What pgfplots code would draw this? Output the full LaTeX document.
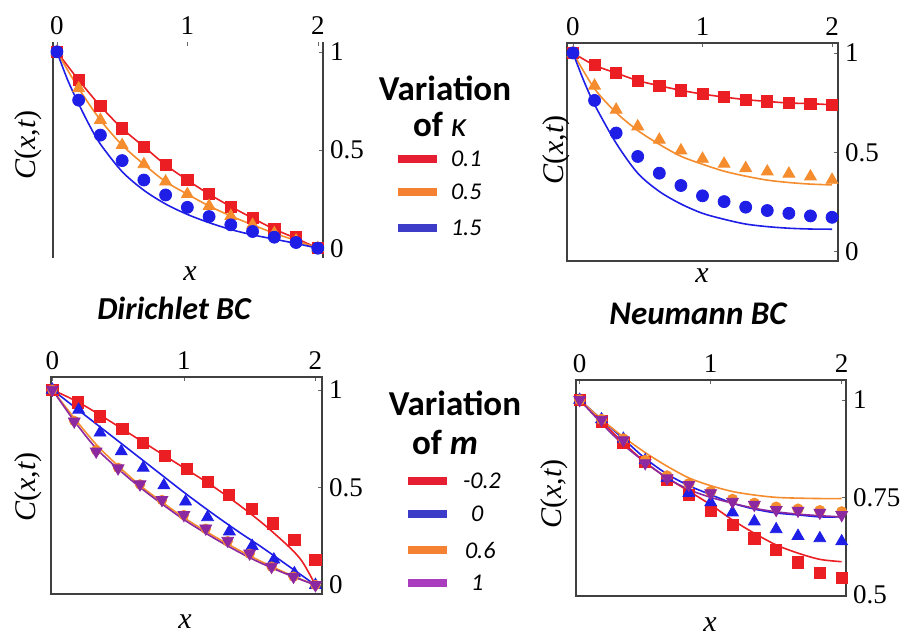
\documentclass[border=0pt]{standalone}
\usepackage{fontspec}
\newfontfamily\tnr{Liberation Serif}
\newfontfamily\calfont{Carlito}
\usepackage{pgfplots}
\pgfplotsset{compat=1.18}

\definecolor{cred}{RGB}{235,30,35}
\definecolor{corange}{RGB}{245,140,45}
\definecolor{cblue}{RGB}{30,30,230}
\definecolor{cpurple}{RGB}{140,40,160}
\definecolor{lred}{RGB}{230,30,50}
\definecolor{lorange}{RGB}{245,130,50}
\definecolor{lblue}{RGB}{60,60,200}
\definecolor{lpurple}{RGB}{170,60,190}

\pgfplotsset{
  panel/.style={
    scale only axis,
    tick label style={font=\tnr\fontsize{13.5}{13.5}\selectfont},
    /pgf/number format/assume math mode=true,
    xtick={0,1,2}, xticklabels={0,1,2},
    xtick pos=upper, xticklabel pos=upper,
    ytick pos=right, yticklabel pos=right,
    tick align=inside, major tick length=2pt,
    axis line style={black!75, line width=0.6pt},
    tick style={black!60},
    clip=false,
  },
  ln/.style={no marks, smooth, line width=0.8pt},
  mk/.style={only marks, mark size=3pt},
}

\begin{document}
\begin{tikzpicture}
\path[use as bounding box] (0,0) rectangle (452pt,-319.5pt);

% ---------------- Panel 1: Dirichlet, kappa ----------------
\begin{axis}[panel, at={(26.5pt,-129pt)}, anchor=south west,
  width=135pt, height=108pt,
  xmin=-0.03, xmax=2.04, ymin=-0.05, ymax=1.05,
  ytick={0,0.5,1}, yticklabels={0,0.5,1},
  separate axis lines,
  x axis line style={draw=none}]
\addplot[ln, cred] coordinates {(0,1)(0.1667,0.856)(0.3333,0.724)(0.5,0.610)(0.6667,0.517)(0.8333,0.424)(1,0.347)(1.1667,0.275)(1.3333,0.212)(1.5,0.153)(1.6667,0.097)(1.8333,0.050)(2,0)};
\addplot[mk, cred, mark=square*, mark size=2.8pt] coordinates {(0,1)(0.1667,0.856)(0.3333,0.724)(0.5,0.610)(0.6667,0.517)(0.8333,0.424)(1,0.347)(1.1667,0.275)(1.3333,0.212)(1.5,0.153)(1.6667,0.097)(1.8333,0.056)(2,0)};
\addplot[ln, corange] coordinates {(0,1)(0.1667,0.814)(0.3333,0.653)(0.5,0.525)(0.6667,0.427)(0.8333,0.339)(1,0.275)(1.1667,0.215)(1.3333,0.164)(1.5,0.119)(1.6667,0.076)(1.8333,0.039)(2,0)};
\addplot[mk, corange, mark=triangle*, mark size=3.4pt] coordinates {(0,1)(0.1667,0.814)(0.3333,0.653)(0.5,0.525)(0.6667,0.427)(0.8333,0.339)(1,0.275)(1.1667,0.215)(1.3333,0.164)(1.5,0.119)(1.6667,0.076)(1.8333,0.039)(2,0)};
\addplot[ln, cblue] coordinates {(0,1)(0.0833,0.855)(0.1667,0.735)(0.25,0.625)(0.3333,0.53)(0.5,0.39)(0.6667,0.295)(0.8333,0.225)(1,0.172)(1.1667,0.13)(1.3333,0.095)(1.5,0.068)(1.6667,0.046)(1.8333,0.024)(2,0)};
\addplot[mk, cblue, mark=*] coordinates {(0,1)(0.1667,0.754)(0.3333,0.576)(0.5,0.446)(0.6667,0.347)(0.8333,0.271)(1,0.208)(1.1667,0.161)(1.3333,0.119)(1.5,0.085)(1.6667,0.056)(1.8333,0.029)(2,0)};
\end{axis}

% ---------------- Panel 2: Neumann, kappa ----------------
\begin{axis}[panel, at={(283.5pt,-130.5pt)}, anchor=south west,
  width=135.5pt, height=109pt,
  xmin=-0.046, xmax=2.046, ymin=-0.047, ymax=1.05,
  ytick={0,0.5,1}, yticklabels={0,0.5,1}]
\addplot[ln, cred] coordinates {(0,1)(0.1667,0.938)(0.3333,0.899)(0.5,0.861)(0.6667,0.835)(0.8333,0.812)(1,0.793)(1.1667,0.778)(1.3333,0.765)(1.5,0.756)(1.6667,0.748)(1.8333,0.745)(2,0.739)};
\addplot[mk, cred, mark=square*, mark size=2.8pt] coordinates {(0,1)(0.1667,0.938)(0.3333,0.899)(0.5,0.861)(0.6667,0.835)(0.8333,0.812)(1,0.793)(1.1667,0.778)(1.3333,0.765)(1.5,0.756)(1.6667,0.748)(1.8333,0.745)(2,0.739)};
\addplot[ln, corange] coordinates {(0,1)(0.1667,0.82)(0.3333,0.70)(0.5,0.61)(0.6667,0.54)(0.8333,0.48)(1,0.44)(1.1667,0.405)(1.3333,0.38)(1.5,0.36)(1.6667,0.348)(1.8333,0.34)(2,0.336)};
\addplot[mk, corange, mark=triangle*, mark size=3.4pt] coordinates {(0,1)(0.1667,0.835)(0.3333,0.714)(0.5,0.630)(0.6667,0.563)(0.8333,0.509)(1,0.467)(1.1667,0.442)(1.3333,0.420)(1.5,0.403)(1.6667,0.392)(1.8333,0.378)(2,0.361)};
\addplot[ln, cblue] coordinates {(0,1)(0.0833,0.86)(0.1667,0.74)(0.3333,0.546)(0.5,0.395)(0.6667,0.303)(0.8333,0.24)(1,0.193)(1.1667,0.163)(1.3333,0.139)(1.5,0.126)(1.6667,0.118)(1.8333,0.114)(2,0.113)};
\addplot[mk, cblue, mark=*] coordinates {(0,1)(0.1667,0.761)(0.3333,0.597)(0.5,0.479)(0.6667,0.395)(0.8333,0.333)(1,0.281)(1.1667,0.252)(1.3333,0.224)(1.5,0.207)(1.6667,0.193)(1.8333,0.180)(2,0.173)};
\end{axis}

% ---------------- Panel 3: Dirichlet, m ----------------
\begin{axis}[panel, at={(25.5pt,-297pt)}, anchor=south west,
  width=135.5pt, height=108.5pt,
  xmin=-0.01, xmax=2.05, ymin=-0.046, ymax=1.065,
  ytick={0,0.5,1}, yticklabels={0,0.5,1}]
\addplot[ln, cred] coordinates {(0,1)(0.2,0.935)(0.4,0.855)(0.6,0.77)(0.8,0.685)(1,0.60)(1.2,0.515)(1.4,0.42)(1.6,0.315)(1.8,0.195)(1.9,0.12)(2,0)};
\addplot[mk, cred, mark=square*, mark size=2.8pt] coordinates {(0,1)(0.197,0.935)(0.362,0.863)(0.532,0.798)(0.691,0.726)(0.853,0.662)(1.02,0.593)(1.185,0.526)(1.344,0.462)(1.519,0.388)(1.678,0.316)(1.84,0.23)(2.0,0.13)};
\addplot[ln, cblue] coordinates {(0,1)(0.2,0.895)(0.4,0.79)(0.6,0.685)(0.8,0.58)(1,0.475)(1.2,0.375)(1.4,0.28)(1.6,0.19)(1.8,0.095)(2,0)};
\addplot[mk, cblue, mark=triangle*, mark size=3.4pt] coordinates {(0,1)(0.2,0.897)(0.363,0.78)(0.524,0.684)(0.691,0.60)(0.848,0.51)(1.013,0.427)(1.18,0.347)(1.346,0.274)(1.519,0.2)(1.684,0.13)(1.84,0.06)(2,0)};
\addplot[ln, corange] coordinates {(0,1)(0.1667,0.855)(0.3333,0.72)(0.5,0.61)(0.6667,0.51)(0.8333,0.425)(1,0.345)(1.1667,0.275)(1.3333,0.21)(1.5,0.15)(1.6667,0.095)(1.8333,0.045)(2,0)};
\addplot[mk, corange, mark=*, mark size=2.4pt] coordinates {(0,1)(0.1667,0.84)(0.3333,0.69)(0.5,0.60)(0.6667,0.515)(0.8333,0.435)(1,0.358)(1.1667,0.288)(1.3333,0.224)(1.5,0.16)(1.6667,0.094)(1.8333,0.043)(2,0)};
\addplot[ln, cpurple] coordinates {(0,1)(0.1667,0.84)(0.3333,0.70)(0.5,0.595)(0.6667,0.50)(0.8333,0.415)(1,0.335)(1.1667,0.265)(1.3333,0.20)(1.5,0.14)(1.6667,0.088)(1.8333,0.042)(2,0)};
\addplot[mk, cpurple, mark=triangle*, mark options={rotate=180}, mark size=3.4pt] coordinates {(0,1)(0.1667,0.838)(0.3333,0.684)(0.5,0.598)(0.6667,0.516)(0.8333,0.436)(1,0.359)(1.1667,0.29)(1.3333,0.227)(1.5,0.162)(1.6667,0.094)(1.8333,0.043)(2,0)};
\end{axis}

% ---------------- Panel 4: Neumann, m ----------------
\begin{axis}[panel, at={(288pt,-298pt)}, anchor=south west,
  width=135pt, height=108pt,
  xmin=-0.028, xmax=2.033, ymin=0.497, ymax=1.051,
  ytick={0.5,0.75,1}, yticklabels={0.5,0.75,1}]
\addplot[ln, cred] coordinates {(0,1)(0.1667,0.945)(0.3333,0.89)(0.5,0.84)(0.6667,0.80)(0.8333,0.766)(1,0.731)(1.1667,0.692)(1.3333,0.658)(1.5,0.628)(1.6667,0.607)(1.8333,0.591)(2,0.585)};
\addplot[mk, cred, mark=square*, mark size=2.8pt] coordinates {(0,1)(0.1667,0.945)(0.3333,0.89)(0.5,0.84)(0.6667,0.795)(0.8333,0.756)(1,0.715)(1.1667,0.679)(1.3333,0.645)(1.5,0.615)(1.6667,0.583)(1.8333,0.556)(2,0.544)};
\addplot[ln, cblue] coordinates {(0,1)(0.1667,0.95)(0.3333,0.90)(0.5,0.85)(0.6667,0.81)(0.8333,0.78)(1,0.757)(1.1667,0.735)(1.3333,0.72)(1.5,0.71)(1.6667,0.705)(1.8333,0.70)(2,0.70)};
\addplot[mk, cblue, mark=triangle*, mark size=3.4pt] coordinates {(0,1)(0.1667,0.95)(0.3333,0.90)(0.5,0.845)(0.6667,0.80)(0.8333,0.761)(1,0.737)(1.1667,0.711)(1.3333,0.688)(1.5,0.668)(1.6667,0.651)(1.8333,0.645)(2,0.637)};
\addplot[ln, corange] coordinates {(0,1)(0.1667,0.95)(0.3333,0.905)(0.5,0.865)(0.6667,0.83)(0.8333,0.80)(1,0.78)(1.1667,0.765)(1.3333,0.756)(1.5,0.75)(1.6667,0.748)(1.8333,0.747)(2,0.747)};
\addplot[mk, corange, mark=*, mark size=2.6pt] coordinates {(0,1)(0.1667,0.95)(0.3333,0.90)(0.5,0.845)(0.6667,0.805)(0.8333,0.785)(1,0.765)(1.1667,0.745)(1.3333,0.735)(1.5,0.725)(1.6667,0.72)(1.8333,0.716)(2,0.713)};
\addplot[ln, cpurple] coordinates {(0,1)(0.1667,0.94)(0.3333,0.885)(0.5,0.84)(0.6667,0.80)(0.8333,0.77)(1,0.75)(1.1667,0.735)(1.3333,0.722)(1.5,0.713)(1.6667,0.707)(1.8333,0.703)(2,0.70)};
\addplot[mk, cpurple, mark=triangle*, mark options={rotate=180}, mark size=3.4pt] coordinates {(0,1)(0.1667,0.949)(0.3333,0.897)(0.5,0.838)(0.6667,0.799)(0.8333,0.782)(1,0.761)(1.1667,0.739)(1.3333,0.731)(1.5,0.718)(1.6667,0.716)(1.8333,0.711)(2,0.705)};
\end{axis}

% ---------------- axis labels ----------------
\def\lblfont{\tnr\fontsize{15}{15}\selectfont}
\def\Cxt{\lblfont\itshape C\upshape(\itshape x\upshape,\itshape t\upshape)}
\node[rotate=90] at (14pt,-72.5pt) {\Cxt};
\node[rotate=90] at (278pt,-75pt) {\Cxt};
\node[rotate=90] at (14pt,-243.5pt) {\Cxt};
\node[rotate=90] at (277pt,-247pt) {\Cxt};
\node at (95pt,-137pt) {\lblfont\itshape x};
\node at (351pt,-138pt) {\lblfont\itshape x};
\node at (92.5pt,-311pt) {\lblfont\itshape x};
\node at (355pt,-312.5pt) {\lblfont\itshape x};

% ---------------- titles ----------------
\node at (87pt,-154pt) {\calfont\fontsize{16}{16}\selectfont\bfseries\itshape Dirichlet BC};
\node at (349pt,-157pt) {\calfont\fontsize{16.5}{16.5}\selectfont\bfseries\itshape Neumann BC};

% ---------------- legend kappa ----------------
\node at (222.5pt,-44pt) {\calfont\fontsize{17.5}{17.5}\selectfont\bfseries Variation};
\node at (220pt,-62pt) {\calfont\fontsize{17.5}{17.5}\selectfont\bfseries of \mdseries\itshape κ};
\draw[lred, line width=4pt] (199pt,-79.5pt) -- (218.5pt,-79.5pt);
\draw[lorange, line width=4pt] (199pt,-96pt) -- (218.5pt,-96pt);
\draw[lblue, line width=4pt] (199pt,-114pt) -- (218.5pt,-114pt);
\node[anchor=west] at (222pt,-79.5pt) {\calfont\fontsize{12}{12}\selectfont\itshape 0.1};
\node[anchor=west] at (222pt,-96pt) {\calfont\fontsize{12}{12}\selectfont\itshape 0.5};
\node[anchor=west] at (222pt,-114pt) {\calfont\fontsize{12}{12}\selectfont\itshape 1.5};

% ---------------- legend m ----------------
\node at (227.5pt,-201.5pt) {\calfont\fontsize{17.5}{17.5}\selectfont\bfseries Variation};
\node at (222.5pt,-221pt) {\calfont\fontsize{17.5}{17.5}\selectfont\bfseries of \itshape m};
\draw[lred, line width=4pt] (204pt,-240.5pt) -- (223.5pt,-240.5pt);
\draw[lblue, line width=4pt] (204pt,-257pt) -- (223.5pt,-257pt);
\draw[lorange, line width=4pt] (204pt,-275pt) -- (223.5pt,-275pt);
\draw[lpurple, line width=4pt] (204pt,-291.5pt) -- (223.5pt,-291.5pt);
\node[anchor=west] at (228pt,-240.5pt) {\calfont\fontsize{12}{12}\selectfont\itshape -0.2};
\node[anchor=west] at (232pt,-257pt) {\calfont\fontsize{12}{12}\selectfont\itshape 0};
\node[anchor=west] at (229pt,-275pt) {\calfont\fontsize{12}{12}\selectfont\itshape 0.6};
\node[anchor=west] at (232pt,-291.5pt) {\calfont\fontsize{12}{12}\selectfont\itshape 1};
\end{tikzpicture}
\end{document}
